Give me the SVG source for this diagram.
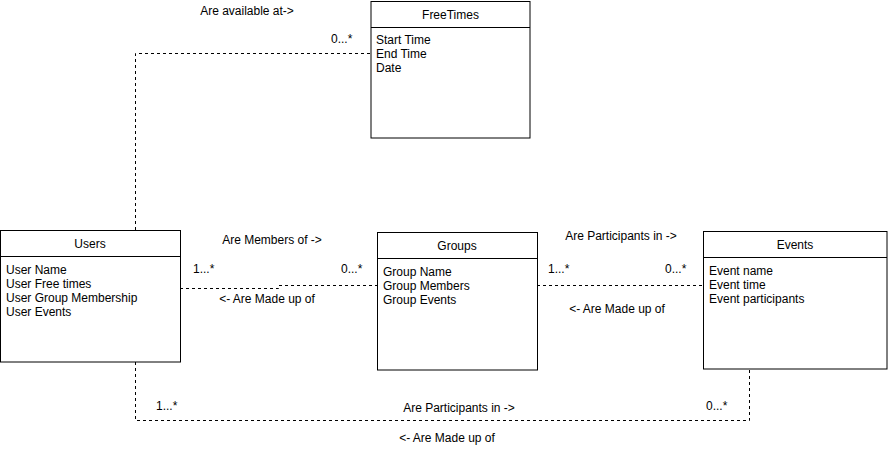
<svg xmlns="http://www.w3.org/2000/svg" width="888" height="451" viewBox="0 0 888 451">
<style>
text{font-family:"Liberation Sans",Arial,sans-serif;font-size:12px;fill:#000}
.c{text-anchor:middle}
.box{fill:#fff;stroke:#000;stroke-width:1}
.conn{fill:none;stroke:#000;stroke-width:1;stroke-dasharray:3 3}
</style>
<rect width="888" height="451" fill="#fff"/>
<g id="connectors">
<path class="conn" d="M135.5,230 V53.5 H371"/>
<path class="conn" d="M180,288.5 H278.5 V285.5 H377"/>
<path class="conn" d="M537,285.5 H703"/>
<path class="conn" d="M135.5,362 V420.5 H749.5 V369"/>
<text class="c" x="247" y="15">Are available at-&gt;</text>
<text x="331" y="43">0...*</text>
<text class="c" x="272" y="244">Are Members of -&gt;</text>
<text x="193" y="273">1...*</text>
<text x="341" y="273">0...*</text>
<text class="c" x="267" y="303">&lt;- Are Made up of</text>
<text class="c" x="621" y="240">Are Participants in -&gt;</text>
<text x="548" y="273">1...*</text>
<text x="665" y="273">0...*</text>
<text class="c" x="617" y="313">&lt;- Are Made up of</text>
<text x="156" y="410">1...*</text>
<text class="c" x="459" y="412">Are Participants in -&gt;</text>
<text x="706" y="410">0...*</text>
<text class="c" x="447" y="442">&lt;- Are Made up of</text>
</g>
<g id="freetimes">
<rect class="box" x="371" y="1.5" width="159" height="136.5"/>
<line x1="371" y1="27.5" x2="530" y2="27.5" stroke="#000"/>
<text class="c" x="450.5" y="19">FreeTimes</text>
<text x="376" y="44">Start Time</text>
<text x="376" y="58">End Time</text>
<text x="376" y="72">Date</text>
</g>
<g id="users">
<rect class="box" x="0.5" y="230.5" width="180" height="131.5"/>
<line x1="0.5" y1="256.5" x2="180.5" y2="256.5" stroke="#000"/>
<text class="c" x="90" y="248">Users</text>
<text x="6" y="274">User Name</text>
<text x="6" y="288">User Free times</text>
<text x="6" y="302">User Group Membership</text>
<text x="6" y="316">User Events</text>
</g>
<g id="groups">
<rect class="box" x="377.5" y="232.5" width="160" height="137.5"/>
<line x1="377.5" y1="258.5" x2="537.5" y2="258.5" stroke="#000"/>
<text class="c" x="457" y="250">Groups</text>
<text x="383" y="276">Group Name</text>
<text x="383" y="290">Group Members</text>
<text x="383" y="304">Group Events</text>
</g>
<g id="events">
<rect class="box" x="703.5" y="231.5" width="183.5" height="137.5"/>
<line x1="703.5" y1="257.5" x2="887" y2="257.5" stroke="#000"/>
<text class="c" x="795" y="249">Events</text>
<text x="709" y="275">Event name</text>
<text x="709" y="289">Event time</text>
<text x="709" y="303">Event participants</text>
</g>
</svg>
